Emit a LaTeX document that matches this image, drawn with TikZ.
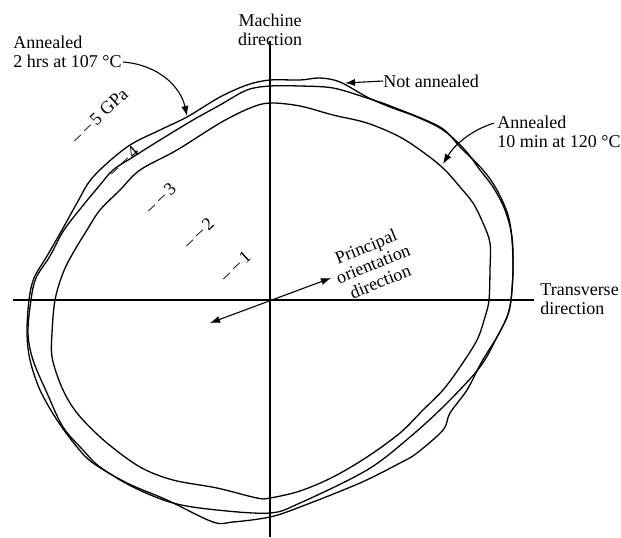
\documentclass[tikz,border=0pt]{standalone}
\usepackage{fontspec}
\setmainfont{Liberation Serif}
\usetikzlibrary{arrows.meta}
\usetikzlibrary{positioning}
\usetikzlibrary{calc}
\newcommand{\gpadash}{--\kern2.2pt--\kern2pt}

\begin{document}
\begin{tikzpicture}[x=0.5pt, y=-0.5pt,
  curve/.style={line width=0.65pt, line join=round},
  axis/.style={line width=0.6pt},
  lbl/.style={inner sep=0pt, font={\fontsize{9}{9.5}\selectfont}},
  gpa/.style={lbl, rotate=43, anchor=west},
  pointer/.style={line width=0.55pt, -{Latex[length=5pt,width=3.6pt]}}]
%\draw[step=50, very thin, red] (0,0) grid (621,537);
\useasboundingbox (0,0) rectangle (621,537);

% axes
\node[lbl, align=center] (machine) at (270,30) {Machine\\direction};
\node[lbl, align=left, anchor=west] (transverse) at (540,299) {Transverse\\direction};
\coordinate (origin) at (270,300);
\coordinate (mdbottom) at (270,537);
\coordinate (tdleft) at (13,300);
\coordinate (tdright) at (534,300);
\draw[axis] (machine.south) ++(0,-5) -- (mdbottom);
\draw[axis] (tdleft) -- (tdright);

% not annealed
\draw[curve] plot[smooth cycle, tension=0.55] coordinates {
  (270,80) (300,80) (320,78) (340,82) (367,97) (390,107) (417,117) (443,130)
  (465,150) (480,170) (493,187) (505,210) (512,237) (513,270) (511,300)
  (507,317) (497,337) (487,353) (480,365) (467,390) (450,413) (443,430)
  (417,453) (400,463) (360,483) (300,507) (270,517) (233,522) (213,522)
  (167,500) (127,483) (93,463) (77,447) (57,420) (40,390) (30,360) (27,333)
  (29,300) (34,278) (47,256) (62,230) (77,203) (93,177) (127,147) (160,130)
  (187,117) (220,97) (247,85)};

% annealed 2 hrs at 107 C
\draw[curve] plot[smooth cycle, tension=0.55] coordinates {
  (270,86) (300,86) (333,88) (367,98) (393,107) (440,127) (460,147)
  (483,170) (497,190) (508,215) (512,240) (513,270) (511,300) (507,317)
  (497,337) (480,367) (447,403) (410,437) (367,470) (300,503) (270,513)
  (217,510) (173,503) (133,487) (100,467) (83,450) (63,427) (47,393)
  (33,360) (28,333) (31,300) (36,278) (50,256) (64,230) (85,203) (100,185)
  (113,170) (133,157) (160,140) (193,120) (220,105) (247,90)};

% annealed 10 min at 120 C
\draw[curve] plot[smooth cycle, tension=0.55] coordinates {
  (270,103) (300,106) (333,115) (367,123) (400,137) (427,155) (445,170)
  (460,187) (473,203) (483,223) (490,243) (490,270) (489,300) (485,317)
  (477,340) (460,367) (443,390) (423,410) (400,433) (367,457) (333,477)
  (300,491) (270,498) (257,498) (217,488) (173,480) (140,467) (107,443)
  (83,420) (70,403) (60,383) (52,357) (52,333) (55,300) (63,273) (73,253)
  (87,230) (100,210) (120,190) (140,170) (177,150) (220,123) (250,108)};

% modulus scale
\node[gpa] (gpa1) at (222,278) {\gpadash 1};
\node[gpa] (gpa2) at (185,245) {\gpadash 2};
\node[gpa] (gpa3) at (147,210) {\gpadash 3};
\node[gpa] (gpa4) at (110,173) {\gpadash 4};
\node[gpa] (gpa5) at (73,140) {\gpadash 5 GPa};

% labels
\node[lbl, align=left, anchor=west] (anneal2h) at (13,52) {Annealed\\2 hrs at 107 °C};
\coordinate (anneal2hend) at (123,62);
\coordinate (anneal2htip) at (187,116);
\draw[pointer] (anneal2hend) .. controls (160,65) and (181,88) .. (anneal2htip);

\node[lbl, anchor=west] (notannealed) at (383,81) {Not annealed};
\coordinate (notannealedtip) at (345,83);
\draw[pointer] (notannealed.west) -- (notannealedtip);

\node[lbl, align=left, anchor=west] (anneal10) at (497,132) {Annealed\\10 min at 120 °C};
\coordinate (anneal10end) at (494,123);
\coordinate (anneal10tip) at (443,164);
\draw[pointer] (anneal10end) .. controls (472,130) and (455,144) .. (anneal10tip);

% principal orientation
\node[lbl, align=center, rotate=22] (principal) at (373,264) {Principal\\orientation\\direction};
\coordinate (podlow) at (210,323);
\coordinate (podhigh) at (331,278);
\draw[pointer, {Latex[length=5pt,width=3.6pt]}-{Latex[length=5pt,width=3.6pt]}] (podlow) -- (podhigh);
\end{tikzpicture}
\end{document}
